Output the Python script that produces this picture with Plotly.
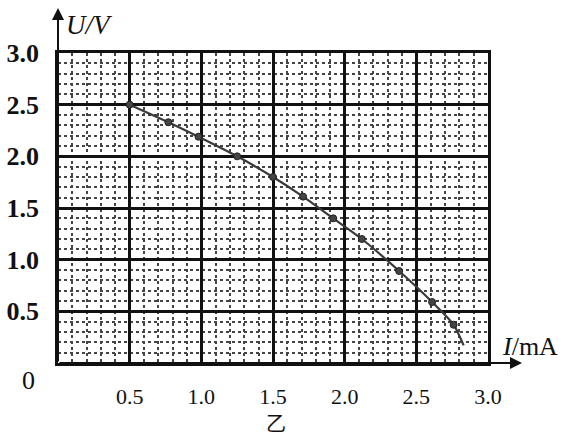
import plotly.graph_objects as go

# Data
current_mA = [0.50, 0.77, 0.98, 1.25, 1.50, 1.71, 1.92, 2.12, 2.38, 2.61, 2.76]
voltage_V = [2.50, 2.33, 2.19, 2.00, 1.80, 1.61, 1.40, 1.20, 0.89, 0.59, 0.37]
line_end_I = 2.83
line_end_U = 0.17
x_ticks = [0.5, 1.0, 1.5, 2.0, 2.5, 3.0]
x_tick_text = ["0.5", "1.0", "1.5", "2.0", "2.5", "3.0"]
y_ticks = [0.5, 1.0, 1.5, 2.0, 2.5, 3.0]
y_tick_text = ["0.5", "1.0", "1.5", "2.0", "2.5", "3.0"]

SERIF = "Liberation Serif"
# plot area in page pixels
PL, PR, PT, PB = 58, 488, 53, 363
W, H = 566, 436
PW, PH = PR - PL, PB - PT


def px(xp):
    return (xp - PL) / PW


def py(yp):
    return (PB - yp) / PH


fig = go.Figure()
fig.add_trace(go.Scatter(
    x=current_mA + [line_end_I], y=voltage_V + [line_end_U],
    mode="lines", line=dict(color="#3a3a3a", width=2.2, shape="spline", smoothing=0.8),
    hoverinfo="skip", showlegend=False))
fig.add_trace(go.Scatter(
    x=current_mA, y=voltage_V, mode="markers",
    marker=dict(color="#444", size=7, line=dict(color="#222", width=1)),
    showlegend=False))

fig.update_xaxes(
    range=[0, 3], tickvals=x_ticks, ticktext=x_tick_text,
    showgrid=True, gridcolor="#111", gridwidth=2.8,
    minor=dict(dtick=0.1, tick0=0, showgrid=True, gridcolor="#444", griddash="dot", gridwidth=1.5),
    showline=True, linecolor="#111", linewidth=2.8, mirror=True,
    ticks="", ticklabelstandoff=12, automargin=False,
    tickfont=dict(family=SERIF, size=22, color="#111"),
    zeroline=False)
fig.update_yaxes(
    range=[0, 3], tickvals=y_ticks, ticktext=y_tick_text,
    showgrid=True, gridcolor="#111", gridwidth=2.8,
    minor=dict(dtick=0.1, tick0=0, showgrid=True, gridcolor="#444", griddash="dot", gridwidth=1.5),
    showline=True, linecolor="#111", linewidth=2.8, mirror=True,
    ticks="", ticklabelstandoff=11, automargin=False,
    tickfont=dict(family=SERIF, size=26, color="#111", weight="bold"),
    zeroline=False)

annotations = [
    # x axis arrow
    dict(xref="paper", yref="paper", x=px(522), y=0, ax=-(522 - PL), ay=0,
         axref="pixel", ayref="pixel", showarrow=True, arrowhead=2, arrowsize=1.2,
         arrowwidth=2, arrowcolor="#111", text=""),
    # y axis arrow
    dict(xref="paper", yref="paper", x=0, y=py(8), ax=0, ay=(PB - 8),
         axref="pixel", ayref="pixel", showarrow=True, arrowhead=2, arrowsize=1.2,
         arrowwidth=2, arrowcolor="#111", text=""),
    dict(xref="paper", yref="paper", x=px(64), y=py(25),
         text="<i>U/V</i>", showarrow=False, xanchor="left", yanchor="middle",
         font=dict(family=SERIF, size=27, color="#111")),
    dict(xref="paper", yref="paper", x=px(500), y=py(346),
         text="<i>I</i>/mA", showarrow=False, xanchor="left", yanchor="middle",
         font=dict(family=SERIF, size=26, color="#111")),
    dict(xref="paper", yref="paper", x=px(29), y=py(380),
         text="0", showarrow=False, xanchor="center", yanchor="middle",
         font=dict(family=SERIF, size=26, color="#111")),
    dict(xref="paper", yref="paper", x=px(276), y=py(422),
         text="乙", showarrow=False, xanchor="center", yanchor="middle",
         font=dict(family="Noto Sans CJK SC", size=20, color="#111")),
]

fig.update_layout(
    width=W, height=H,
    margin=dict(l=PL, r=W - PR, t=PT, b=H - PB),
    paper_bgcolor="white", plot_bgcolor="white",
    annotations=annotations,
)

fig.write_html(
    "out.html",
    config={"displayModeBar": False},
    post_script="document.body.style.margin='0';document.body.style.overflow='hidden';",
)
